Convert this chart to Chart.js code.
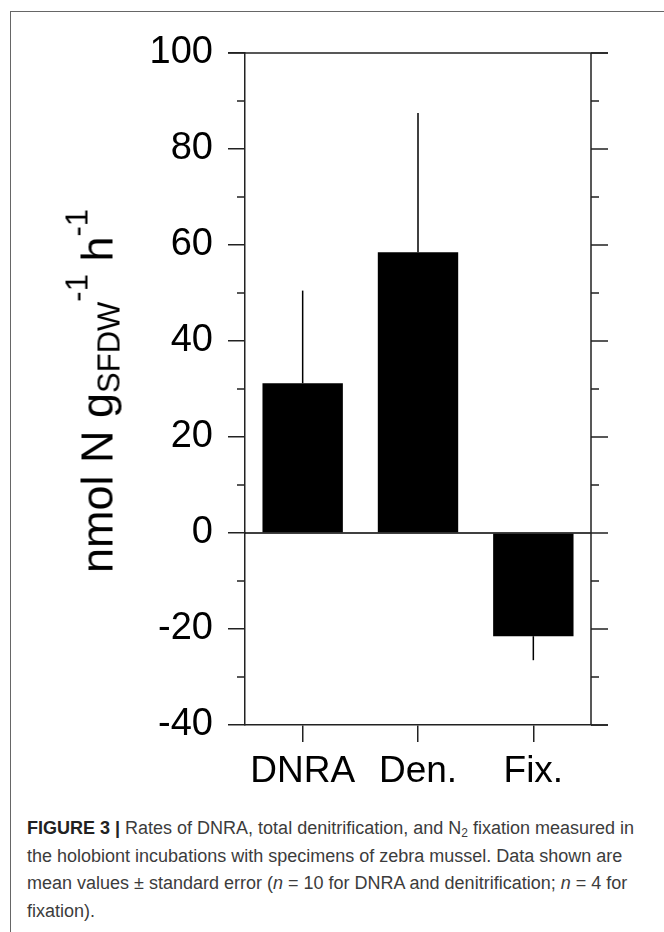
<!DOCTYPE html>
<html>
<head>
<meta charset="utf-8">
<script src="https://cdn.jsdelivr.net/npm/chart.js@4.4.1/dist/chart.umd.min.js"></script>
<style>
  body { margin: 0; background: #fff; width: 664px; height: 932px; overflow: hidden; position: relative; }
  #frame { position: absolute; left: 10px; top: 11px; width: 700px; height: 960px; border: 1.5px solid #666; box-sizing: border-box; }
  #chartBox { position: absolute; left: 0; top: 0; width: 664px; height: 800px; }
  #ytitle {
    position: absolute; left: 97px; top: 391px;
    transform: translate(-50%, -50%) rotate(-90deg);
    font-family: "Liberation Sans", Arial, sans-serif; font-size: 45px; color: #000;
    white-space: nowrap; line-height: 1;
  }
  #ytitle sub { font-size: 31px; vertical-align: -7px; line-height: 0; }
  #ytitle sup { font-size: 31px; vertical-align: 25px; line-height: 0; }
  #caption {
    position: absolute; left: 27px; top: 815px;
    font-family: "Liberation Sans", Arial, sans-serif; font-size: 18px; line-height: 27.5px;
    color: #3c3c3c; white-space: nowrap;
  }
  #caption b { color: #222; }
  #caption sub { font-size: 12px; vertical-align: -3px; line-height: 0; }
</style>
</head>
<body>
<div id="frame"></div>
<div id="chartBox"><canvas id="rates" width="664" height="800"></canvas></div>
<div id="ytitle">nmol N g<sub>SFDW</sub><sup>-1</sup> h<sup>-1</sup></div>
<div id="caption">
  <b>FIGURE 3 |</b> Rates of DNRA, total denitrification, and N<sub>2</sub> fixation measured in<br>
  the holobiont incubations with specimens of zebra mussel. Data shown are<br>
  mean values ± standard error (<i>n</i> = 10 for DNRA and denitrification; <i>n</i> = 4 for<br>
  fixation).
</div>
<script>
  const categories = ['DNRA', 'Den.', 'Fix.'];
  const rates = [31.2, 58.5, -21.5];
  const stdErr = [19.3, 29.0, 5.0];
  const yMin = -40;
  const yMax = 100;
  const majorStep = 20;
  const minorTicks = [-30, -10, 10, 30, 50, 70, 90];
  const majorTicks = [-40, -20, 0, 20, 40, 60, 80, 100];

  const axisColor = '#222';

  // error bars (one sided, away from zero) + box frame + minor ticks
  const framePlugin = {
    id: 'frame',
    afterDatasetsDraw(chart) {
      const ctx = chart.ctx;
      const x = chart.scales.x;
      const y = chart.scales.y;
      const area = chart.chartArea;
      ctx.save();
      ctx.strokeStyle = '#000';
      ctx.lineWidth = 1.5;

      // zero line
      ctx.beginPath();
      ctx.moveTo(area.left, y.getPixelForValue(0));
      ctx.lineTo(area.right, y.getPixelForValue(0));
      ctx.stroke();

      rates.forEach((v, i) => {
        const cx = x.getPixelForValue(i);
        const end = v >= 0 ? v + stdErr[i] : v - stdErr[i];
        ctx.beginPath();
        ctx.moveTo(cx, y.getPixelForValue(v));
        ctx.lineTo(cx, y.getPixelForValue(end));
        ctx.stroke();
      });

      ctx.strokeStyle = axisColor;
      // top + right side of the box
      ctx.beginPath();
      ctx.moveTo(area.left - 17, area.top);
      ctx.lineTo(area.right + 17, area.top);
      ctx.moveTo(area.right, area.top);
      ctx.lineTo(area.right, area.bottom);
      ctx.moveTo(area.right, area.bottom);
      ctx.lineTo(area.right + 17, area.bottom);
      ctx.stroke();

      ctx.beginPath();
      majorTicks.forEach(t => {
        const py = y.getPixelForValue(t);
        ctx.moveTo(area.right, py);
        ctx.lineTo(area.right + 17, py);
      });
      minorTicks.forEach(t => {
        const py = y.getPixelForValue(t);
        ctx.moveTo(area.left - 8, py);
        ctx.lineTo(area.left, py);
        ctx.moveTo(area.right, py);
        ctx.lineTo(area.right + 8, py);
      });
      ctx.stroke();
      ctx.restore();
    }
  };

  new Chart(document.getElementById('rates'), {
    type: 'bar',
    data: {
      labels: categories,
      datasets: [{
        data: rates,
        backgroundColor: '#000',
        borderWidth: 0,
        categoryPercentage: 1.0,
        barPercentage: 0.697
      }]
    },
    options: {
      responsive: false,
      animation: false,
      layout: { padding: { left: 0, right: 73, top: 53, bottom: 0 } },
      plugins: { legend: { display: false }, tooltip: { enabled: false } },
      scales: {
        x: {
          offset: true,
          grid: { display: true, offset: false, drawOnChartArea: false, drawTicks: true, tickLength: 17, color: axisColor, lineWidth: 1.5 },
          border: { display: true, color: axisColor, width: 1.5 },
          ticks: { color: '#000', padding: 8, font: { family: 'Liberation Sans', size: 37 }, maxRotation: 0 },
          afterFit: s => { s.height = 75; }
        },
        y: {
          min: yMin,
          max: yMax,
          grid: { display: true, drawOnChartArea: false, drawTicks: true, tickLength: 17, color: axisColor, lineWidth: 1.5 },
          border: { display: true, color: axisColor, width: 1.5 },
          ticks: { stepSize: majorStep, color: '#000', padding: 15, font: { family: 'Liberation Sans', size: 38 } },
          afterFit: s => { s.width = 245; }
        }
      }
    },
    plugins: [framePlugin]
  });
</script>
</body>
</html>
